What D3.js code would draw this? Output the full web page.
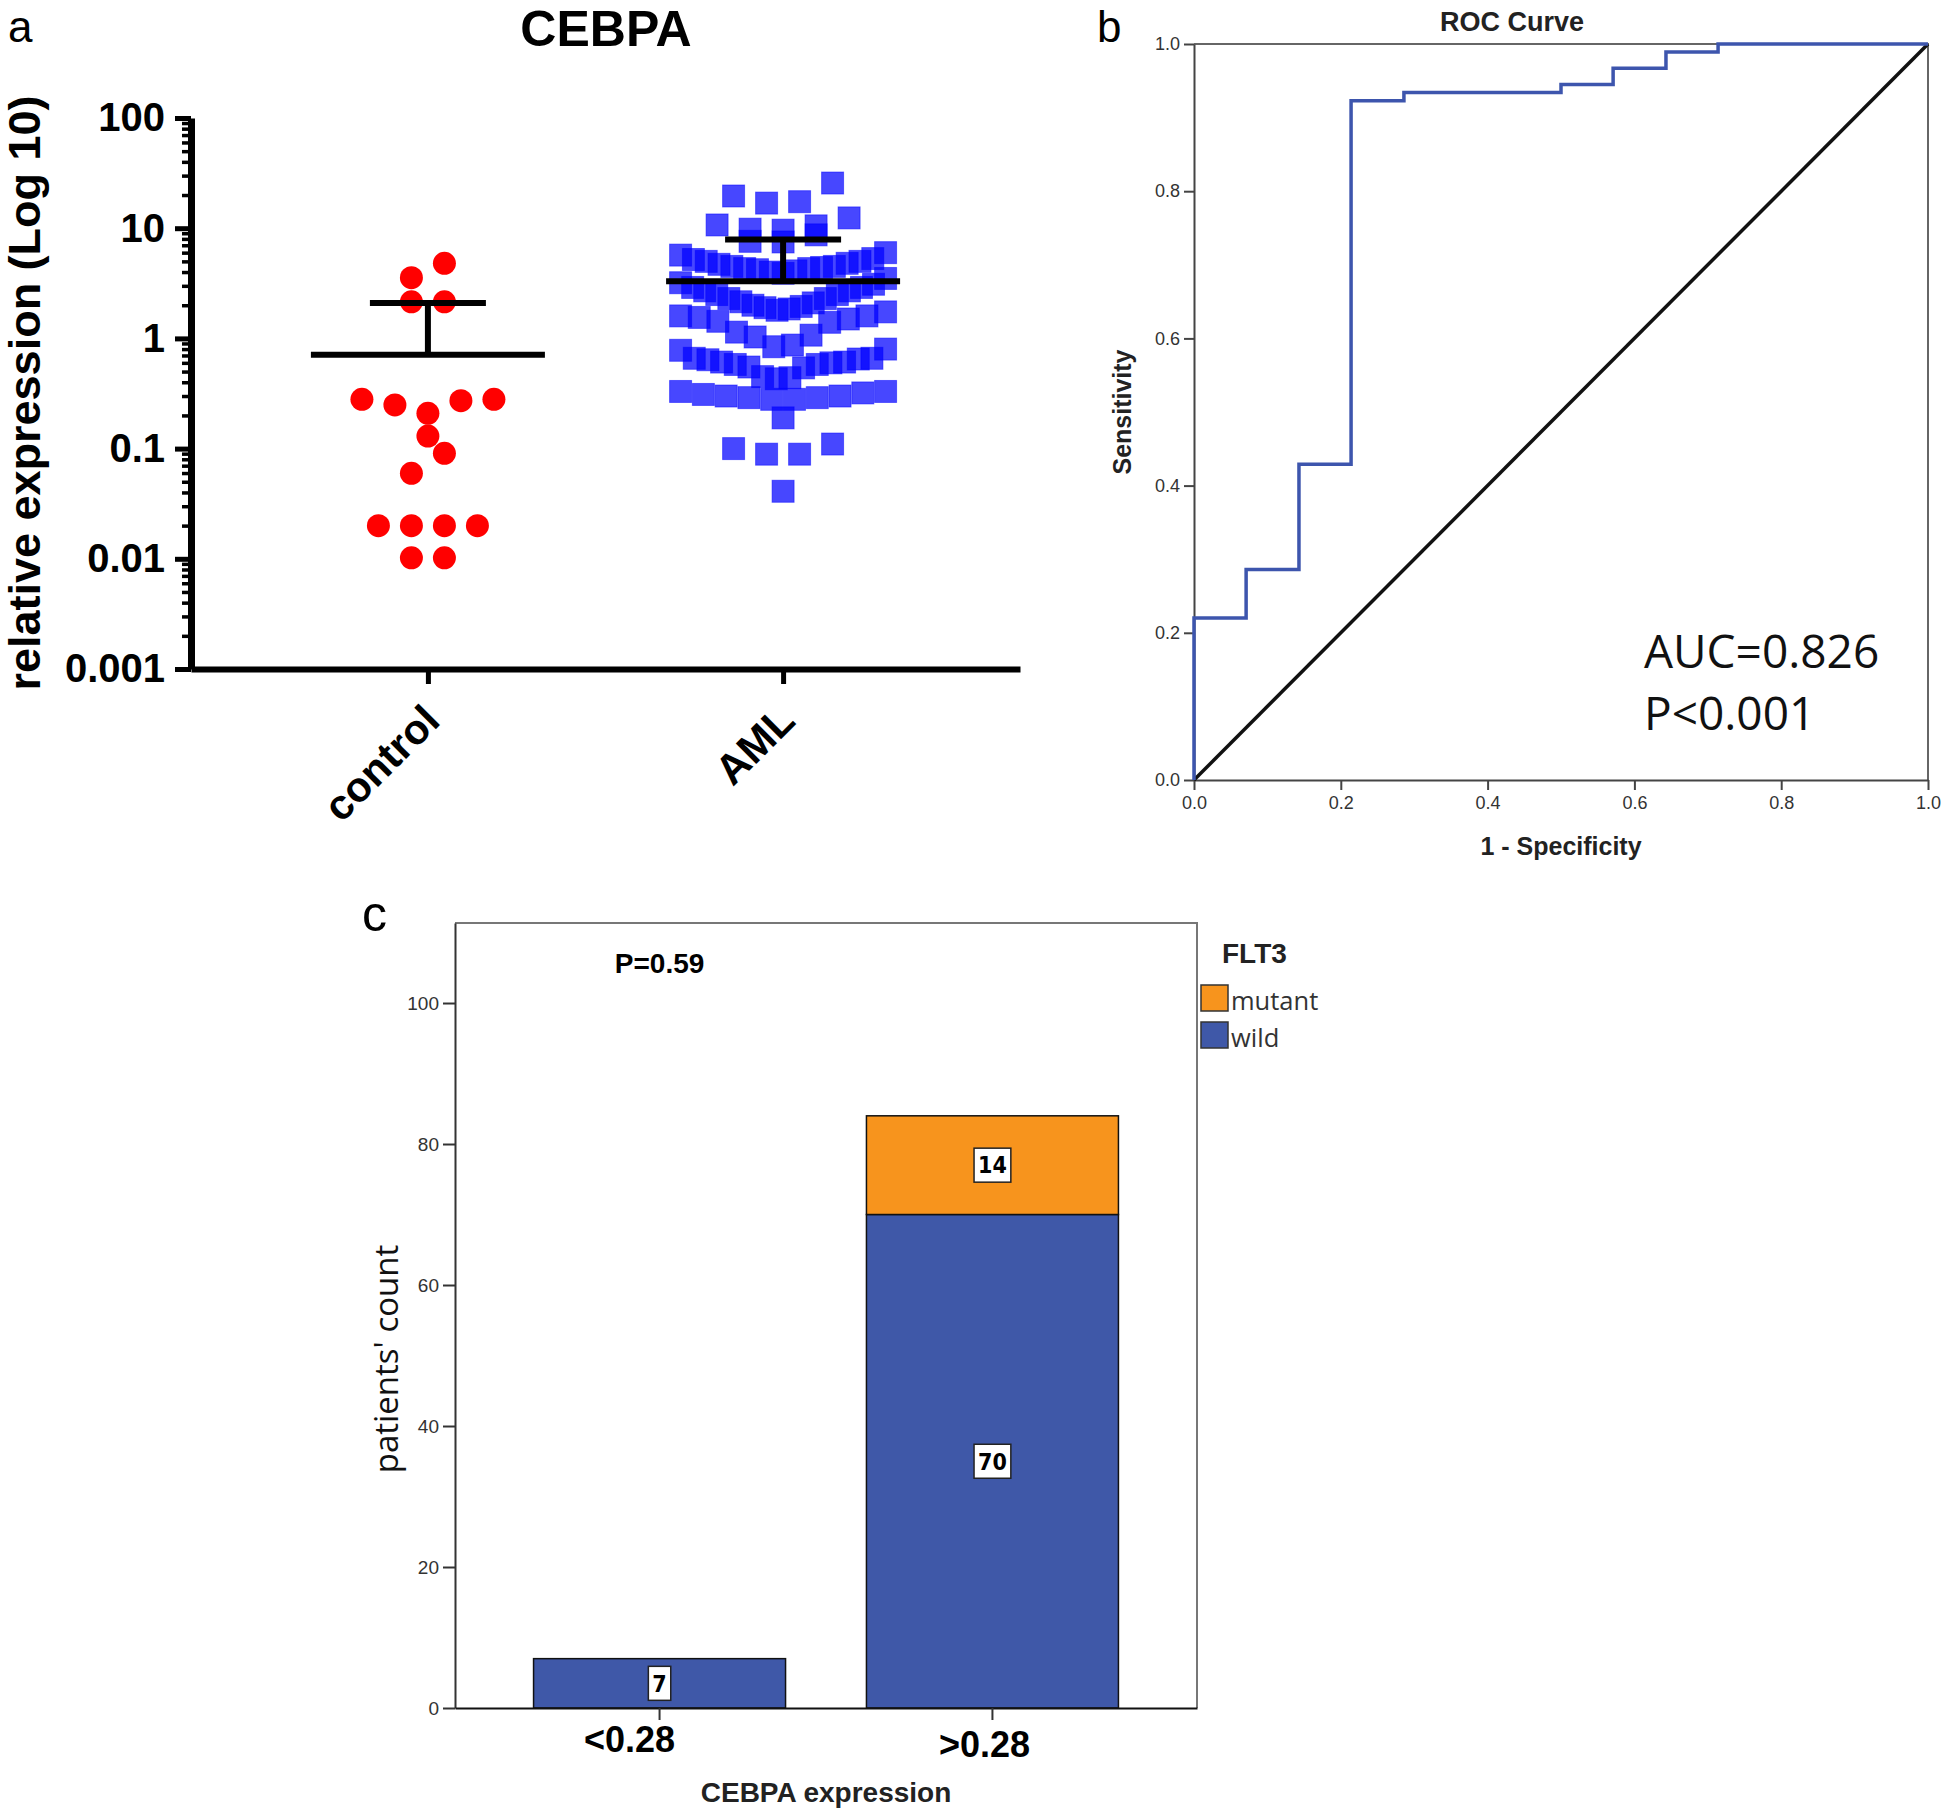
<!DOCTYPE html>
<html>
<head>
<meta charset="utf-8">
<script src="https://cdn.jsdelivr.net/npm/d3@7"></script>
<style>
body { margin: 0; background: #fff; }
svg { display: block; }
</style>
</head>
<body>
<div id="chart"></div>
<script>
// ---- panel a: CEBPA relative expression ----
var groups = ["control", "AML"]
var decadeTicks = [0.001, 0.01, 0.1, 1, 10, 100]
// values grouped in the rows the swarm uses
var controlRows = [
    [3.56, 4.8],
    [2.15, 2.15],
    [0.209, 0.249, 0.272, 0.28, 0.28],
    [0.13],
    [0.0597, 0.0906],
    [0.02, 0.02, 0.02, 0.02],
    [0.0102, 0.0102]
]
var amlRows = [
    [16.9, 17.4, 19.6, 25.7],
    [9.6, 9.8, 10.5, 10.7, 12.4],
    [7.5, 7.6, 8.7],
    [3.9, 4.0, 4.1, 4.2, 4.3, 4.3, 4.4, 4.5, 4.5, 4.7, 4.8, 5.0, 5.0, 5.2, 5.3, 5.7, 6.0],
    [1.8, 1.85, 1.9, 1.95, 2.0, 2.1, 2.15, 2.3, 2.3, 2.5, 2.5, 2.7, 2.7, 2.9, 2.9, 3.1, 3.2, 3.5],
    [0.84, 0.87, 1.03, 1.07, 1.14, 1.4, 1.43, 1.5, 1.55, 1.6, 1.6, 1.74],
    [0.43, 0.44, 0.45, 0.54, 0.55, 0.58, 0.58, 0.6, 0.61, 0.61, 0.64, 0.65, 0.66, 0.66, 0.78, 0.8],
    [0.28, 0.28, 0.29, 0.29, 0.3, 0.3, 0.31, 0.32, 0.33, 0.33],
    [0.19],
    [0.089, 0.089, 0.1, 0.11],
    [0.041]
]
var groupMeans = [0.71, 3.3]
var groupUpper = [2.1, 7.9]

// ---- panel b: ROC ----
var fpr = [0, 0.071, 0.143, 0.214, 0.286, 0.5, 0.571, 0.643, 0.714, 1]
var tpr = [0, 0.22, 0.286, 0.429, 0.923, 0.934, 0.945, 0.967, 0.989, 1]
var rocTicks = [0, 0.2, 0.4, 0.6, 0.8, 1]

// ---- panel c: FLT3 by CEBPA expression ----
var exprGroups = ["<0.28", ">0.28"]
var flt3Status = ["wild", "mutant"]
var wildCounts = [7, 70]
var mutantCounts = [0, 14]
var countTicks = [0, 20, 40, 60, 80, 100]

var W = 1946, H = 1811
var fontA = "'Liberation Sans', Arial, Helvetica, sans-serif"
var fontS = "'Open Sans', 'Noto Sans', sans-serif"

const svg = d3.select("#chart").append("svg")
    .attr("width", W).attr("height", H)
    .attr("font-family", fontA)

// spread the values of each row side by side, lowest in the middle
function swarm(rows, maxStep, span) {
    var out = []
    rows.forEach(row => {
        var n = row.length
        var step = n > 1 ? Math.min(maxStep, span / (n - 1)) : 0
        var slots = d3.range(n).map(i => i - (n - 1) / 2)
        slots.sort((a, b) => Math.abs(a) - Math.abs(b) || a - b)
        row.slice().sort(d3.ascending).forEach((v, i) => out.push({ v: v, dx: slots[i] * step }))
    })
    return out
}

// ================= panel a =================
{
    const x = d3.scalePoint().domain(groups).range([191, 1020]).padding(0.667)
    const y = d3.scaleLog().domain([0.001, 100]).range([669, 118])
    const g = svg.append("g")

    g.append("text").attr("x", 8).attr("y", 42).attr("font-size", 44).text("a")
    g.append("text").attr("x", 606).attr("y", 46).attr("text-anchor", "middle")
        .attr("font-size", 50).attr("font-weight", "bold").text("CEBPA")

    var minors = []
    decadeTicks.slice(0, -1).forEach(d => { for (let k = 2; k <= 9; k++) minors.push(d * k) })

    const minorAx = g.append("g").attr("transform", "translate(191,0)")
        .call(d3.axisLeft(y).tickValues(minors).tickSize(9).tickFormat(""))
    minorAx.select(".domain").remove()
    minorAx.selectAll("line").attr("stroke", "#000").attr("stroke-width", 3.5)

    const yAx = g.append("g").attr("transform", "translate(191,0)")
        .call(d3.axisLeft(y).tickValues(decadeTicks).tickSize(16).tickSizeOuter(0).tickPadding(10)
            .tickFormat(d3.format("~g")))
    yAx.select(".domain").attr("stroke", "#000").attr("stroke-width", 7)
    yAx.selectAll("line").attr("stroke", "#000").attr("stroke-width", 5)
    yAx.selectAll("text").attr("font-size", 40).attr("font-weight", "bold")
        .attr("font-family", fontA).attr("fill", "#000")

    const xAx = g.append("g").attr("transform", "translate(0,669)")
        .call(d3.axisBottom(x).tickSize(15).tickSizeOuter(0).tickFormat(""))
    xAx.select(".domain").attr("stroke", "#000").attr("stroke-width", 6)
    xAx.selectAll("line").attr("stroke", "#000").attr("stroke-width", 5)

    g.selectAll(".cat").data(groups).enter().append("text")
        .attr("transform", d => `translate(${x(d) + 14},723) rotate(-45)`)
        .attr("text-anchor", "end").attr("font-size", 42).attr("font-weight", "bold")
        .text(d => d)

    g.append("text").attr("transform", "translate(40,393) rotate(-90)")
        .attr("text-anchor", "middle").attr("font-size", 45).attr("font-weight", "bold")
        .text("relative expression (Log 10)")

    g.selectAll(".ctrl").data(swarm(controlRows, 33, 300)).enter().append("circle")
        .attr("cx", d => x("control") + d.dx).attr("cy", d => y(d.v))
        .attr("r", 11.5).attr("fill", "#ff0000")

    g.selectAll(".aml").data(swarm(amlRows, 33, 205)).enter().append("rect")
        .attr("x", d => x("AML") + d.dx - 11).attr("y", d => y(d.v) - 11)
        .attr("width", 22).attr("height", 22)
        .attr("fill", "#0000ff").attr("fill-opacity", 0.72)
        .attr("stroke", "#0000ff").attr("stroke-opacity", 0.5).attr("stroke-width", 1)

    groups.forEach((grp, i) => {
        var cx = x(grp)
        g.append("line").attr("x1", cx - 117).attr("x2", cx + 117)
            .attr("y1", y(groupMeans[i])).attr("y2", y(groupMeans[i]))
            .attr("stroke", "#000").attr("stroke-width", 6)
        g.append("line").attr("x1", cx).attr("x2", cx)
            .attr("y1", y(groupMeans[i])).attr("y2", y(groupUpper[i]))
            .attr("stroke", "#000").attr("stroke-width", 6)
        g.append("line").attr("x1", cx - 58).attr("x2", cx + 58)
            .attr("y1", y(groupUpper[i])).attr("y2", y(groupUpper[i]))
            .attr("stroke", "#000").attr("stroke-width", 6)
    })
}

// ================= panel b =================
{
    const x = d3.scaleLinear().domain([0, 1]).range([1194, 1928])
    const y = d3.scaleLinear().domain([0, 1]).range([780, 44])
    const g = svg.append("g")

    g.append("text").attr("x", 1097).attr("y", 42).attr("font-size", 44).text("b")
    g.append("text").attr("x", 1512).attr("y", 31).attr("text-anchor", "middle")
        .attr("font-size", 27).attr("font-weight", "bold").attr("fill", "#222").text("ROC Curve")

    // frame top and right
    g.append("path").attr("d", `M${x(0)},${y(1)}H${x(1)}V${y(0)}`)
        .attr("fill", "none").attr("stroke", "#666").attr("stroke-width", 2)

    const yAx = g.append("g").attr("transform", `translate(${x(0)},0)`)
        .call(d3.axisLeft(y).tickValues(rocTicks).tickFormat(d3.format(".1f")).tickSize(10).tickSizeOuter(0).tickPadding(4))
    const xAx = g.append("g").attr("transform", `translate(0,${y(0)})`)
        .call(d3.axisBottom(x).tickValues(rocTicks).tickFormat(d3.format(".1f")).tickSize(10).tickSizeOuter(0).tickPadding(6))
    ;[yAx, xAx].forEach(ax => {
        ax.select(".domain").attr("stroke", "#444").attr("stroke-width", 2)
        ax.selectAll("line").attr("stroke", "#444").attr("stroke-width", 2)
        ax.selectAll("text").attr("font-size", 18).attr("fill", "#333").attr("font-family", fontA)
    })

    g.append("text").attr("transform", `translate(1131,${(y(0) + y(1)) / 2}) rotate(-90)`)
        .attr("text-anchor", "middle").attr("font-size", 25).attr("font-weight", "bold")
        .attr("fill", "#222").text("Sensitivity")
    g.append("text").attr("x", (x(0) + x(1)) / 2).attr("y", 855).attr("text-anchor", "middle")
        .attr("font-size", 25).attr("font-weight", "bold").attr("fill", "#222").text("1 - Specificity")

    g.append("line").attr("x1", x(0)).attr("y1", y(0)).attr("x2", x(1)).attr("y2", y(1))
        .attr("stroke", "#111").attr("stroke-width", 3.5)

    const line = d3.line().x((d, i) => x(fpr[i])).y((d, i) => y(tpr[i])).curve(d3.curveStepBefore)
    g.append("path").datum(fpr).attr("d", line)
        .attr("fill", "none").attr("stroke", "#3d55ad").attr("stroke-width", 3.5)

    g.append("text").attr("x", 1644).attr("y", 668).attr("font-family", fontS)
        .attr("font-size", 46).attr("fill", "#111").text("AUC=0.826")
    g.append("text").attr("x", 1644).attr("y", 730).attr("font-family", fontS)
        .attr("font-size", 46).attr("fill", "#111").text("P<0.001")
}

// ================= panel c =================
{
    const x = d3.scaleBand().domain(exprGroups).range([455, 1197]).paddingInner(0.243).paddingOuter(0.236)
    const y = d3.scaleLinear().domain([0, 111.35]).range([1708, 923])
    const color = { wild: "#3f58a8", mutant: "#f7941d" }
    const g = svg.append("g")

    g.append("text").attr("x", 362).attr("y", 931).attr("font-size", 50).text("c")

    g.append("path").attr("d", `M455,923H1197V1708`)
        .attr("fill", "none").attr("stroke", "#777").attr("stroke-width", 2)

    const rows = exprGroups.map((d, i) => ({ grp: d, wild: wildCounts[i], mutant: mutantCounts[i] }))
    const stack = d3.stack().keys(flt3Status)(rows)

    stack.forEach(layer => {
        g.selectAll(".bar-" + layer.key).data(layer.filter(d => d[1] > d[0])).enter().append("rect")
            .attr("x", d => x(d.data.grp)).attr("width", x.bandwidth())
            .attr("y", d => y(d[1])).attr("height", d => y(d[0]) - y(d[1]))
            .attr("fill", color[layer.key]).attr("stroke", "#111").attr("stroke-width", 1.5)
    })

    stack.forEach(layer => {
        layer.filter(d => d[1] > d[0]).forEach(d => {
            var cx = x(d.data.grp) + x.bandwidth() / 2
            var cy = y((d[0] + d[1]) / 2)
            var lg = g.append("g")
            var t = lg.append("text").attr("x", cx).attr("y", cy).attr("dy", "0.36em")
                .attr("text-anchor", "middle").attr("font-size", 23).attr("font-weight", "bold")
                .attr("font-family", "'Liberation Sans Narrow', 'DejaVu Sans Condensed', " + fontA)
                .text(d[1] - d[0])
            var bb = t.node().getBBox()
            lg.insert("rect", "text").attr("x", bb.x - 4).attr("y", cy - 17)
                .attr("width", bb.width + 8).attr("height", 34)
                .attr("fill", "#fff").attr("stroke", "#222").attr("stroke-width", 1.5)
        })
    })

    const yAx = g.append("g").attr("transform", "translate(455,0)")
        .call(d3.axisLeft(y).tickValues(countTicks).tickSize(12).tickSizeOuter(0).tickPadding(4))
    yAx.select(".domain").attr("stroke", "#333").attr("stroke-width", 2)
    yAx.selectAll("line").attr("stroke", "#333").attr("stroke-width", 2)
    yAx.selectAll("text").attr("font-size", 19).attr("fill", "#333").attr("font-family", fontA)

    const xAx = g.append("g").attr("transform", "translate(0,1708)")
        .call(d3.axisBottom(x).tickSize(12).tickSizeOuter(0).tickFormat(""))
    xAx.select(".domain").attr("stroke", "#111").attr("stroke-width", 2)
    xAx.selectAll("line").attr("stroke", "#333").attr("stroke-width", 2)

    g.selectAll(".xlab").data(exprGroups).enter().append("text")
        .attr("x", (d, i) => x(d) + x.bandwidth() / 2 - (i == 0 ? 30 : 8)).attr("y", (d, i) => i == 0 ? 1752 : 1757)
        .attr("text-anchor", "middle").attr("font-size", 36).attr("font-weight", "bold")
        .text(d => d)

    g.append("text").attr("x", 826).attr("y", 1802).attr("text-anchor", "middle")
        .attr("font-size", 28).attr("font-weight", "bold").attr("fill", "#222").text("CEBPA expression")
    g.append("text").attr("transform", "translate(398,1359) rotate(-90)")
        .attr("text-anchor", "middle").attr("font-family", fontS).attr("font-size", 33)
        .attr("fill", "#111").text("patients' count")
    g.append("text").attr("x", x(exprGroups[0]) + x.bandwidth() / 2).attr("y", 973)
        .attr("text-anchor", "middle").attr("font-size", 28).attr("font-weight", "bold").text("P=0.59")

    // legend
    g.append("text").attr("x", 1222).attr("y", 963).attr("font-size", 28).attr("font-weight", "bold")
        .attr("fill", "#222").text("FLT3")
    const legendKeys = flt3Status.slice().reverse()
    legendKeys.forEach((k, i) => {
        g.append("rect").attr("x", 1201).attr("y", 985 + i * 37).attr("width", 27).attr("height", 26)
            .attr("fill", color[k]).attr("stroke", "#333").attr("stroke-width", 1.5)
        g.append("text").attr("x", 1231).attr("y", 1010 + i * 37).attr("font-family", fontS)
            .attr("font-size", 25.5).attr("fill", "#333").text(k)
    })
}
</script>
</body>
</html>
